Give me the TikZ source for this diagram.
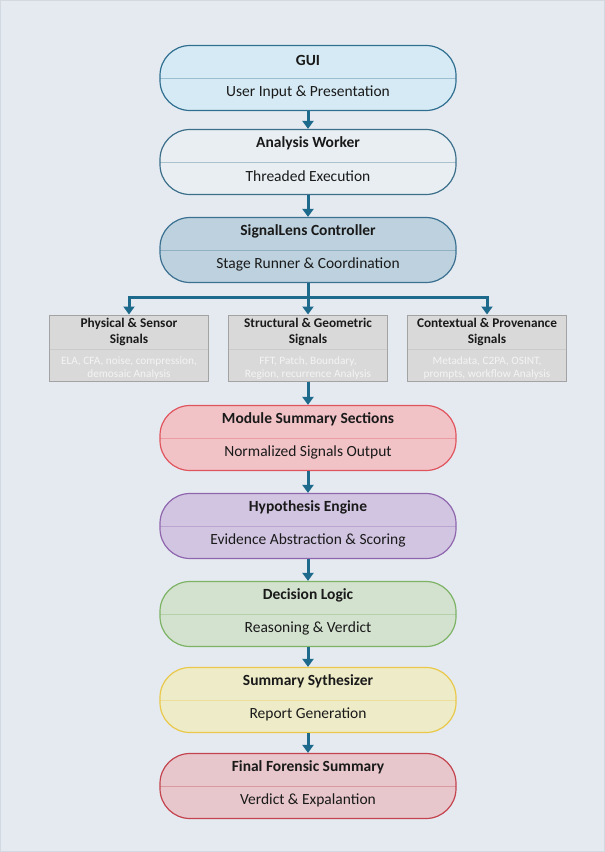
\documentclass[tikz,border=0pt]{standalone}
\usepackage{fontspec}
\setmainfont{Carlito}
\usetikzlibrary{arrows.meta}
\definecolor{bgc}{HTML}{E5EAF1}
\definecolor{bgline}{HTML}{D3D9E1}
\definecolor{arrc}{HTML}{1D6A8C}
\definecolor{guiF}{HTML}{D5EAF4}\definecolor{guiD}{HTML}{2F6F8F}
\definecolor{awF}{HTML}{E8EEF2}\definecolor{awD}{HTML}{3B6F8A}
\definecolor{slF}{HTML}{BDD2DE}\definecolor{slD}{HTML}{3A7090}
\definecolor{msF}{HTML}{F1C3C7}\definecolor{msD}{HTML}{E0545D}
\definecolor{heF}{HTML}{D2C5E2}\definecolor{heD}{HTML}{8F66AE}
\definecolor{dlF}{HTML}{D3E1CF}\definecolor{dlD}{HTML}{7DB365}
\definecolor{ssF}{HTML}{EEECC8}\definecolor{ssD}{HTML}{E9C84A}
\definecolor{ffF}{HTML}{E7C7CB}\definecolor{ffD}{HTML}{C3434E}
\definecolor{sgF}{HTML}{D9D9D9}\definecolor{sgD}{HTML}{A3A3A3}\definecolor{sgT}{HTML}{F4F4F4}
\definecolor{txt}{HTML}{1A1A1A}
\tikzset{
  mainbox/.style 2 args={draw=#2, fill=#1, line width=1.2pt, rounded corners=30pt,
    minimum width=296pt, minimum height=65pt, inner sep=0pt,
    path picture={\draw[#2!35!#1, line width=0.8pt] (path picture bounding box.west) -- (path picture bounding box.east);}},
  sigbox/.style={draw=sgD, fill=sgF, line width=1pt, minimum width=159pt, minimum height=66pt, inner sep=0pt,
    path picture={\draw[sgD!25!sgF, line width=0.8pt] ([yshift=-1pt]path picture bounding box.west) -- ([yshift=-1pt]path picture bounding box.east);}},
  ttl/.style={font=\fontsize{15.5}{17}\selectfont\bfseries, text=txt, inner sep=0pt},
  sub/.style={font=\fontsize{15.5}{17}\selectfont, text=txt, inner sep=0pt},
  sttl/.style={font=\fontsize{13.3}{16}\selectfont\bfseries, text=txt, align=center, inner sep=0pt},
  ssub/.style={font=\fontsize{11.3}{13}\selectfont, text=sgT, align=center, inner sep=0pt},
  arr/.style={draw=arrc, line width=3pt, -{Triangle[width=11pt,length=8pt]}},
  ln/.style={draw=arrc, line width=3pt},
}
\begin{document}
\begin{tikzpicture}[x=1pt,y=-1pt]
\fill[bgc] (0,0) rectangle (605,852);
\draw[bgline, line width=1pt] (0.5,0.5) rectangle (604.5,851.5);

\node[mainbox={guiF}{guiD}] (gui) at (308,78) {};
\node[ttl] (guiT) at (308,60) {GUI};
\node[sub] (guiS) at (308,92) {User Input \& Presentation};

\node[mainbox={awF}{awD}] (aw) at (308,162) {};
\node[ttl] (awT) at (308,143) {Analysis Worker};
\node[sub] (awS) at (308,176) {Threaded Execution};

\node[mainbox={slF}{slD}] (sl) at (308,250) {};
\node[ttl] (slT) at (308,231) {SignalLens Controller};
\node[sub] (slS) at (308,264) {Stage Runner \& Coordination};

\node[sigbox] (phys) at (129,348) {};
\node[sttl] (physT) at (129,332) {Physical \& Sensor\\Signals};
\node[ssub] (physS) at (129,368) {ELA, CFA, noise, compression,\\demosaic Analysis};

\node[sigbox] (strc) at (308,348) {};
\node[sttl] (strcT) at (308,332) {Structural \& Geometric\\Signals};
\node[ssub] (strcS) at (308,368) {FFT, Patch, Boundary,\\Region, recurrence Analysis};

\node[sigbox] (ctx) at (487,348) {};
\node[sttl] (ctxT) at (487,332) {Contextual \& Provenance\\Signals};
\node[ssub] (ctxS) at (487,368) {Metadata, C2PA, OSINT,\\prompts, workflow Analysis};

\node[mainbox={msF}{msD}] (ms) at (308,438) {};
\node[ttl] (msT) at (308,419) {Module Summary Sections};
\node[sub] (msS) at (308,452) {Normalized Signals Output};

\node[mainbox={heF}{heD}] (he) at (308,526) {};
\node[ttl] (heT) at (308,507) {Hypothesis Engine};
\node[sub] (heS) at (308,540) {Evidence Abstraction \& Scoring};

\node[mainbox={dlF}{dlD}] (dl) at (308,614) {};
\node[ttl] (dlT) at (308,595) {Decision Logic};
\node[sub] (dlS) at (308,628) {Reasoning \& Verdict};

\node[mainbox={ssF}{ssD}] (ss) at (308,700) {};
\node[ttl] (ssT) at (308,681) {Summary Sythesizer};
\node[sub] (ssS) at (308,714) {Report Generation};

\node[mainbox={ffF}{ffD}] (ff) at (308,786) {};
\node[ttl] (ffT) at (308,767) {Final Forensic Summary};
\node[sub] (ffS) at (308,800) {Verdict \& Expalantion};

\draw[arr] (gui.south) -- (aw.north);
\draw[arr] (aw.south) -- (sl.north);
\coordinate (jn) at (308,297);
\draw[ln] (sl.south) -- ([yshift=1.5pt]jn);
\draw[arr] ([xshift=1.5pt]jn) -| (phys.north);
\draw[arr] ([xshift=-1.5pt]jn) -| (ctx.north);
\draw[arr] (jn) -- (strc.north);
\draw[arr] (strc.south) -- (ms.north);
\draw[arr] (ms.south) -- (he.north);
\draw[arr] (he.south) -- (dl.north);
\draw[arr] (dl.south) -- (ss.north);
\draw[arr] (ss.south) -- (ff.north);
\end{tikzpicture}
\end{document}
